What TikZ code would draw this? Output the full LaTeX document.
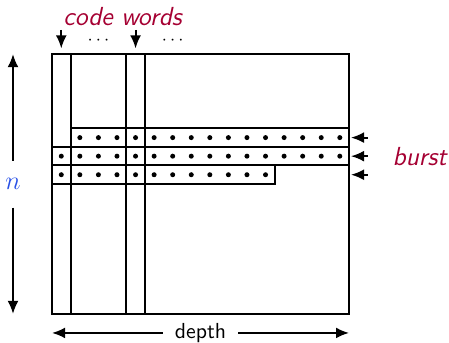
\documentclass[tikz,border=0pt]{standalone}
\usetikzlibrary{arrows.meta}
\definecolor{hl}{RGB}{165,0,50}
\definecolor{nblue}{RGB}{40,80,230}
\begin{document}
\begin{tikzpicture}[x=0.3cm,y=0.3cm,
  ln/.style={line width=0.9pt},
  arr/.style={line width=0.9pt,-{Latex[length=6pt,width=5pt]}},
  dotmark/.style={circle,fill=black,inner sep=0pt,minimum size=2.3pt},
  lbl/.style={font=\sffamily\itshape\large,text=hl}]
\useasboundingbox (-2.8,-1.508) rectangle (21.38,16.91);
% main box and columns
\draw[ln] (0,0) rectangle (16,14);
\draw[ln] (1,0) -- (1,14);
\draw[ln] (4,0) -- (4,14);
\draw[ln] (5,0) -- (5,14);
% burst rows
\draw[ln] (1,9) rectangle (16,10);
\draw[ln] (0,8) rectangle (16,9);
\draw[ln] (0,7) rectangle (12,8);
\foreach \i in {1,...,15} \node[dotmark] at (\i+0.5,9.5) {};
\foreach \i in {0,...,15} \node[dotmark] at (\i+0.5,8.5) {};
\foreach \i in {0,...,11} \node[dotmark] at (\i+0.5,7.5) {};
% top annotation
\node[lbl,inner sep=0pt] (cw) at (3.8,16.0) {code words};
\coordinate (a1s) at (0.5,15.3); \coordinate (a1e) at (0.5,14.3);
\coordinate (a2s) at (4.5,15.3); \coordinate (a2e) at (4.5,14.3);
\draw[arr] (a1s) -- (a1e);
\draw[arr] (a2s) -- (a2e);
\node[inner sep=0pt,font=\footnotesize] (d1) at (2.5,14.75) {$\cdots$};
\node[inner sep=0pt,font=\footnotesize] (d2) at (6.5,14.75) {$\cdots$};
% right arrows
\foreach \r/\nm in {9.5/r1,8.5/r2,7.5/r3}{
  \coordinate (\nm s) at (17.0,\r); \coordinate (\nm e) at (16.1,\r);
  \draw[arr] (\nm s) -- (\nm e);}
\node[lbl] (burst) at (19.8,8.5) {burst};
% left n arrow
\coordinate (nt) at (-2.1,14); \coordinate (nb) at (-2.1,0);
\node[text=nblue,font=\large] (n) at (-2.1,7) {$n$};
\draw[arr] (n.north) ++(0,0.55) -- (nt);
\draw[arr] (n.south) ++(0,-0.55) -- (nb);
% depth arrow
\coordinate (dl) at (0,-1.02); \coordinate (dr) at (16,-1.02);
\node[font=\sffamily] (depth) at (8,-1.02) {depth};
\draw[arr] (depth.west) ++(-0.25,0) -- (dl);
\draw[arr] (depth.east) ++(0.25,0) -- (dr);
\end{tikzpicture}
\end{document}
